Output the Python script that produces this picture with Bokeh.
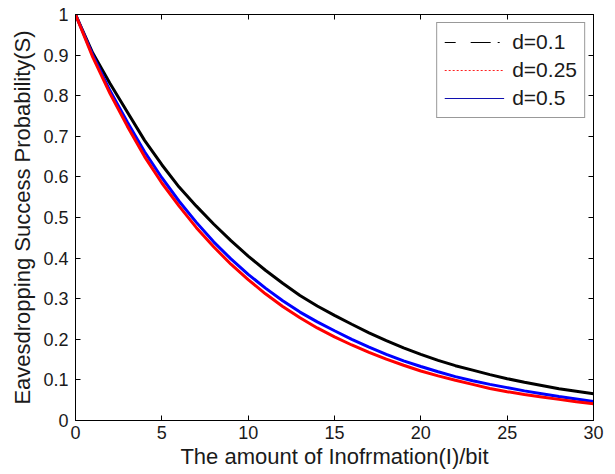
from bokeh.plotting import figure
from bokeh.models import (LinearAxis, FixedTicker, Range1d, Legend, LegendItem,
                          ColumnDataSource)
from bokeh.embed import file_html
from bokeh.resources import INLINE

# ---------------- data ----------------
info_bits = list(range(0, 31))

s_d01 = [1.0, 0.905, 0.83, 0.76, 0.69, 0.63, 0.575, 0.528, 0.484, 0.443,
         0.405, 0.370, 0.338, 0.308, 0.282, 0.259, 0.237, 0.216, 0.197, 0.179,
         0.163, 0.148, 0.135, 0.124, 0.113, 0.103, 0.094, 0.086, 0.078, 0.072,
         0.066]
s_d025 = [1.0, 0.895, 0.805, 0.725, 0.65, 0.585, 0.528, 0.475, 0.428, 0.385,
          0.347, 0.312, 0.281, 0.253, 0.228, 0.206, 0.186, 0.168, 0.151, 0.136,
          0.122, 0.11, 0.099, 0.089, 0.079, 0.071, 0.064, 0.058, 0.052, 0.046,
          0.041]
s_d05 = [1.0, 0.9, 0.812, 0.735, 0.662, 0.598, 0.54, 0.488, 0.44, 0.398,
         0.36, 0.326, 0.295, 0.267, 0.243, 0.221, 0.2, 0.181, 0.163, 0.147,
         0.133, 0.12, 0.108, 0.098, 0.089, 0.081, 0.073, 0.066, 0.059, 0.053,
         0.047]

legend_labels = ["d=0.1", "d=0.25", "d=0.5"]
x_ticks = [0, 5, 10, 15, 20, 25, 30]
y_ticks = [0, 0.1, 0.2, 0.3, 0.4, 0.5, 0.6, 0.7, 0.8, 0.9, 1]
y_tick_labels = ["0", "0.1", "0.2", "0.3", "0.4", "0.5", "0.6", "0.7", "0.8", "0.9", "1"]
x_label = "The amount of Inofrmation(I)/bit"
y_label = "Eavesdropping Success Probability(S)"

FONT = "Liberation Sans"
TXT = "#1a1a1a"

p = figure(width=613, height=472, output_backend="svg", toolbar_location=None,
           x_range=Range1d(0, 30), y_range=Range1d(0, 1),
           min_border_left=75, min_border_right=20, min_border_top=14,
           min_border_bottom=52)
p.background_fill_color = "white"
p.border_fill_color = "white"
p.outline_line_color = "#000000"
p.grid.visible = False

src = ColumnDataSource(dict(x=info_bits, a=s_d01, b=s_d025, c=s_d05))

# thin styled lines (shown in the legend), hidden under the thick curves
r1 = p.line("x", "a", source=src, line_color="#000000", line_width=1,
            line_dash="11 15 20 7 2 40")
r2 = p.line("x", "b", source=src, line_color="#ff2020", line_width=1,
            line_dash="2 2")
r3 = p.line("x", "c", source=src, line_color="#1010b0", line_width=1)

p.line("x", "a", source=src, line_color="#000000", line_width=3)
p.line("x", "c", source=src, line_color="#0000ff", line_width=3)
p.line("x", "b", source=src, line_color="#ff0000", line_width=3)

legend = Legend(items=[LegendItem(label=legend_labels[0], renderers=[r1]),
                       LegendItem(label=legend_labels[1], renderers=[r2]),
                       LegendItem(label=legend_labels[2], renderers=[r3])],
                location="top_right", margin=8, padding=7, spacing=4,
                glyph_width=60, glyph_height=20, label_height=20,
                label_standoff=8,
                label_text_font=FONT, label_text_font_size="21px",
                label_text_color=TXT,
                border_line_color="#333333", border_line_width=1,
                background_fill_color="white", background_fill_alpha=1)
p.add_layout(legend, "center")


def style_axis(ax, ticks, show_labels):
    ax.ticker = FixedTicker(ticks=ticks)
    ax.major_tick_in = 5
    ax.major_tick_out = 0
    ax.minor_tick_in = 0
    ax.minor_tick_out = 0
    ax.axis_line_color = "#000000"
    ax.major_tick_line_color = "#000000"
    ax.major_label_text_font = FONT
    ax.major_label_text_color = TXT
    if show_labels:
        ax.major_label_text_font_size = "18px"
    else:
        ax.major_label_text_font_size = "0px"
        ax.major_label_standoff = 0


xa = p.xaxis[0]
ya = p.yaxis[0]
style_axis(xa, x_ticks, True)
style_axis(ya, y_ticks, True)
xa.major_label_standoff = 5
ya.major_label_standoff = 7
ya.major_label_overrides = {t: s for t, s in zip(y_ticks, y_tick_labels)}

for ax, lab in ((xa, x_label), (ya, y_label)):
    ax.axis_label = lab
    ax.axis_label_text_font = FONT
    ax.axis_label_text_font_size = "22px"
    ax.axis_label_text_font_style = "normal"
    ax.axis_label_text_color = TXT
xa.axis_label_standoff = 2
ya.axis_label_standoff = 5

top_ax = LinearAxis()
right_ax = LinearAxis()
style_axis(top_ax, x_ticks, False)
style_axis(right_ax, y_ticks, False)
p.add_layout(top_ax, "above")
p.add_layout(right_ax, "right")

open("out.html", "w").write(file_html(p, INLINE))
